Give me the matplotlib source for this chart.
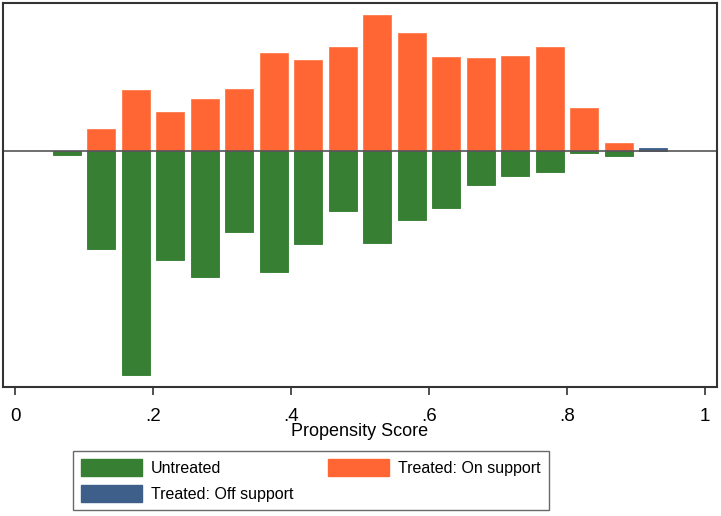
import matplotlib
matplotlib.use("Agg")
import matplotlib.pyplot as plt
from matplotlib.patches import Patch

plt.rcParams["font.family"] = ["Liberation Sans", "DejaVu Sans"]

# bin centres of the propensity score histogram
centros = [0.075, 0.125, 0.175, 0.225, 0.275, 0.325, 0.375, 0.425, 0.475,
           0.525, 0.575, 0.625, 0.675, 0.725, 0.775, 0.825, 0.875, 0.925]
tratados_on = [0, 22, 61, 39, 52, 62, 98, 91, 104,
               136, 118, 94, 93, 95, 104, 43, 8, 0]
tratados_off = [0, 0, 0, 0, 0, 0, 0, 0, 0,
                0, 0, 0, 0, 0, 0, 0, 0, 3]
no_tratados = [4, 98, 224, 109, 126, 81, 121, 93, 60,
               92, 69, 57, 34, 25, 21, 2, 5, 0]

ticks = [0, 0.2, 0.4, 0.6, 0.8, 1.0]
tick_labels = ["0", ".2", ".4", ".6", ".8", "1"]

verde = "#367f33"
naranja = "#ff6633"
azul = "#3e5f8a"

fig = plt.figure(figsize=(7.21, 5.16), dpi=100)
ax = fig.add_axes([3 / 721, 129 / 516, 714 / 721, 384 / 516])

ancho = 0.04
ax.bar(centros, [-v for v in no_tratados], width=ancho, color=verde,
       edgecolor="#2f7a2c", linewidth=0.6)
ax.bar(centros, tratados_on, width=ancho, color=naranja,
       edgecolor="#ff7a4d", linewidth=0.6)
ax.bar(centros, tratados_off, width=ancho, color=azul,
       edgecolor=azul, linewidth=0.6)

ax.axhline(0, color="#555555", linewidth=1.2)

ax.set_xlim(-0.0174, 1.0174)
ax.set_ylim(-236, 148)
ax.set_yticks([])
ax.set_xticks(ticks)
ax.set_xticklabels(tick_labels, fontsize=13.5)
ax.tick_params(axis="x", direction="out", length=6, width=1.2, color="#333333", pad=9)
for s in ax.spines.values():
    s.set_linewidth(1.5)
    s.set_color("#333333")
ax.set_xlabel("Propensity Score", fontsize=13, labelpad=-1)

manejadores = [Patch(facecolor=verde, edgecolor=verde),
               Patch(facecolor=azul, edgecolor=azul),
               Patch(facecolor=naranja, edgecolor=naranja)]
etiquetas = ["Untreated", "Treated: Off support", "Treated: On support"]
leg = fig.legend(manejadores, etiquetas, ncol=2, loc="upper left",
                 bbox_to_anchor=(73 / 721, 1 - 451 / 516),
                 fontsize=11.5, frameon=True, fancybox=False,
                 handlelength=3.8, handleheight=1.25, labelspacing=0.6,
                 borderaxespad=0, borderpad=0.5, handletextpad=0.56,
                 columnspacing=2.2)
leg.get_frame().set_edgecolor("#444444")
leg.get_frame().set_linewidth(1.0)

fig.savefig("out.png", dpi=100)
